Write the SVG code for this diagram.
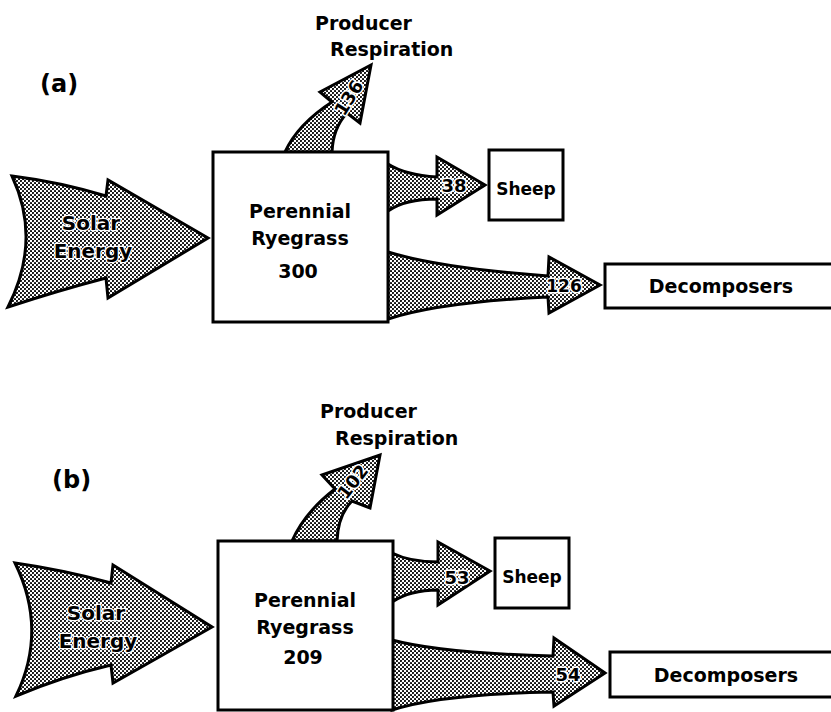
<svg xmlns="http://www.w3.org/2000/svg" width="831" height="712" viewBox="0 0 831 712">
<style>
text{font-family:"DejaVu Sans","Liberation Sans",sans-serif;font-weight:bold;fill:#000}
.box{fill:#fff;stroke:#000;stroke-width:3}
.flow{fill:url(#dots);stroke:#000;stroke-width:3;stroke-linejoin:miter}
.lbl{font-size:18px;paint-order:stroke;stroke:#fff;stroke-width:3;stroke-linejoin:round}
.t{font-size:19px;text-anchor:middle}
.se{font-size:20px;text-anchor:middle;paint-order:stroke;stroke:#fff;stroke-width:2.5;stroke-linejoin:round}
.panel{font-size:24px}
</style>
<defs>
<pattern id="dots" width="4" height="4" patternUnits="userSpaceOnUse">
<rect width="4" height="4" fill="#fff"/>
<circle cx="1" cy="1" r="1.05" fill="#000"/>
<circle cx="3" cy="3" r="1.05" fill="#000"/>
</pattern>
</defs>

<!-- Panel (a) -->
<text class="panel" x="40" y="92">(a)</text>

<g id="a-solar">
<path class="flow" d="M12 176 Q60 182 106 196 L108 180 L208 238 L108 298 L106 278 Q60 290 8 307 Q42 240 12 176 Z"/>
<text class="se" x="91" y="230">Solar</text>
<text class="se" x="93" y="258">Energy</text>
</g>

<g id="a-resp-label">
<text x="315" y="30" style="font-size:19px">Producer</text>
<text x="330" y="56" style="font-size:19px">Respiration</text>
</g>

<g id="a-connectors">
<path class="flow" d="M285 152 Q298 124 332 102 L320 92 L371 65 L360 123 L347 113 Q333 128 332 152 Z"/>
<text class="lbl" transform="translate(349,98) rotate(-58)" text-anchor="middle" dy="6">136</text>
<path class="flow" d="M388 164 Q405 175 437 177 L437 157 L485 185 L437 215 L437 199 Q405 199 388 211 Z"/>
<text class="lbl" x="454" y="192" text-anchor="middle">38</text>
<path class="flow" d="M388 252 Q440 268 548 276 L549 257 L600 285 L549 313 L548 297 Q440 302 388 319 Z"/>
<text class="lbl" x="564" y="292" text-anchor="middle" style="font-size:17px">126</text>
</g>

<g id="a-ryegrass">
<rect class="box" x="213" y="152" width="175" height="170"/>
<text class="t" x="300" y="218">Perennial</text>
<text class="t" x="300" y="245">Ryegrass</text>
<text class="t" x="298" y="278">300</text>
</g>

<g id="a-sheep">
<rect class="box" x="489" y="150" width="74" height="70"/>
<text x="526" y="195" style="font-size:17px;text-anchor:middle">Sheep</text>
</g>

<g id="a-decomposers">
<rect class="box" x="605" y="264" width="240" height="44"/>
<text class="t" x="721" y="293">Decomposers</text>
</g>

<!-- Panel (b) -->
<text class="panel" x="52" y="488">(b)</text>

<g id="b-solar">
<path class="flow" d="M15 563 Q64 570 111 583 L113 565 L212 627 L113 683 L111 665 Q64 676 16 696 Q48 630 15 563 Z"/>
<text class="se" x="96" y="620">Solar</text>
<text class="se" x="98" y="648">Energy</text>
</g>

<g id="b-resp-label">
<text x="320" y="418" style="font-size:19px">Producer</text>
<text x="335" y="445" style="font-size:19px">Respiration</text>
</g>

<g id="b-connectors">
<path class="flow" d="M292 541 Q305 512 335 489 L322 475 L380 455 L370 508 L352 501 Q338 515 337 541 Z"/>
<text class="lbl" transform="translate(353,482) rotate(-52)" text-anchor="middle" dy="6">102</text>
<path class="flow" d="M392 553 Q410 562 438 562 L438 542 L490 571 L438 605 L438 590 Q410 590 392 602 Z"/>
<text class="lbl" x="457" y="584" text-anchor="middle">53</text>
<path class="flow" d="M392 640 Q440 653 553 656 L554 638 L605 673 L554 706 L553 692 Q440 694 392 710 Z"/>
<text class="lbl" x="568" y="681" text-anchor="middle">54</text>
</g>

<g id="b-ryegrass">
<rect class="box" x="218" y="541" width="175" height="169"/>
<text class="t" x="305" y="607">Perennial</text>
<text class="t" x="305" y="634">Ryegrass</text>
<text class="t" x="303" y="664">209</text>
</g>

<g id="b-sheep">
<rect class="box" x="495" y="538" width="74" height="70"/>
<text x="532" y="583" style="font-size:17px;text-anchor:middle">Sheep</text>
</g>

<g id="b-decomposers">
<rect class="box" x="610" y="652" width="240" height="45"/>
<text class="t" x="726" y="682">Decomposers</text>
</g>
</svg>
